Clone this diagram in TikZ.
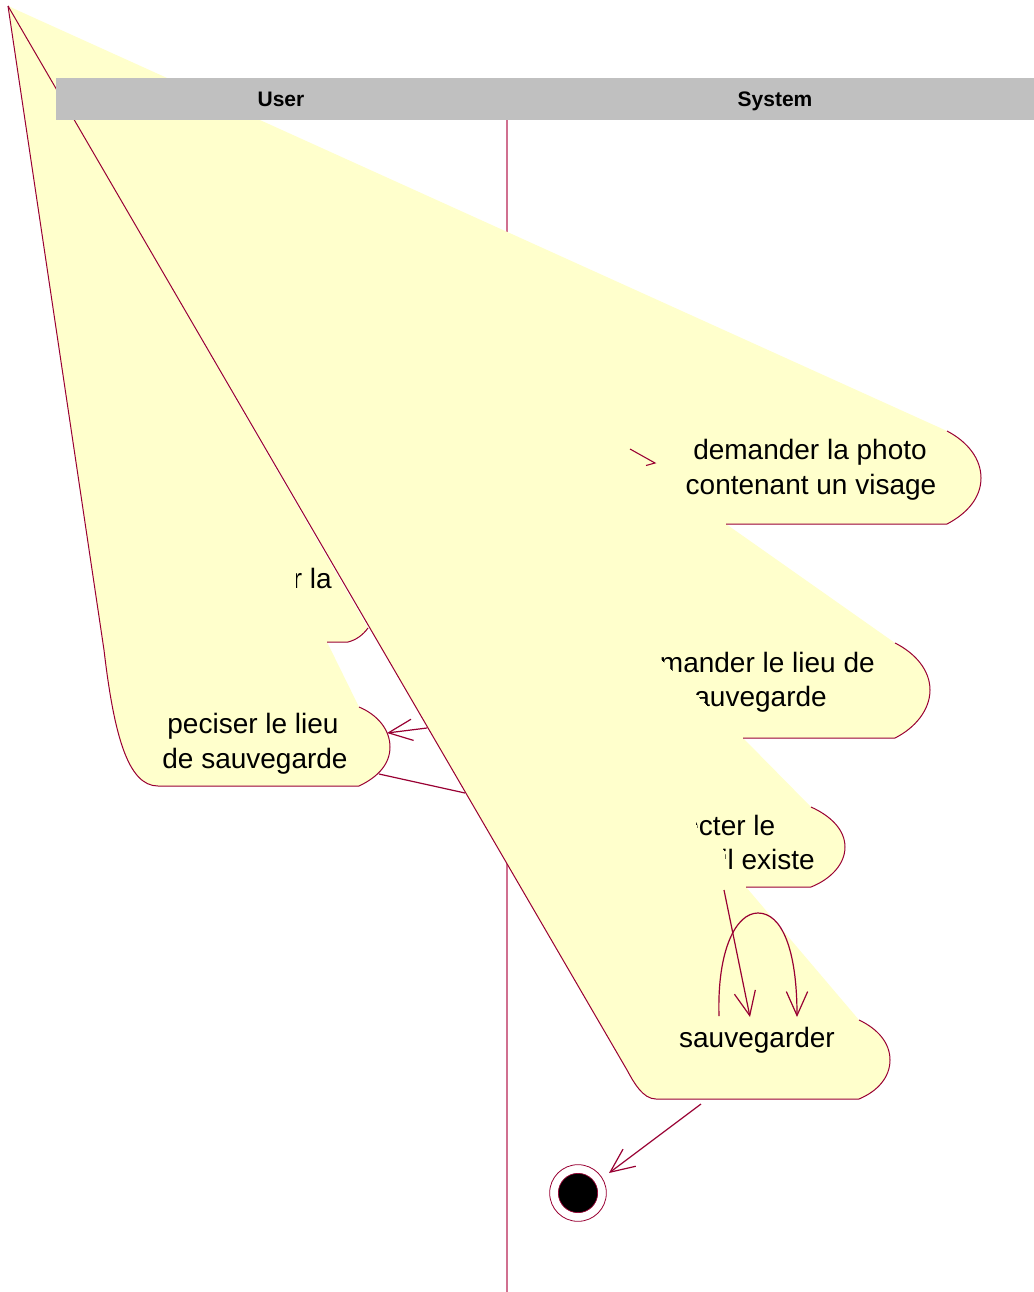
\documentclass[tikz,border=0pt]{standalone}
\usepackage{fontspec}
\setmainfont{Liberation Sans}
\usetikzlibrary{arrows.meta}
\definecolor{roseyellow}{HTML}{FFFFCC}
\definecolor{rosered}{HTML}{990033}
\definecolor{lanepink}{HTML}{D07090}
\definecolor{headgray}{HTML}{C0C0C0}
\tikzset{
  outline/.style={draw=rosered, line width=0.75pt},
  flow/.style={draw=rosered, line width=0.9pt, -{Straight Barb[length=18pt,width=16pt]}},
  acttext/.style={font=\fontsize{21}{26}\selectfont, inner sep=0pt, anchor=base},
  lanetext/.style={font=\bfseries\fontsize{15.75}{18}\selectfont, inner sep=0pt, anchor=base},
}
\begin{document}
\begin{tikzpicture}[x=0.75pt,y=-0.75pt]
\fill[white] (0,0) rectangle (1034,1292);
\useasboundingbox (0,0) rectangle (1034,1292);

% swimlane divider
\draw[lanepink, line width=1pt] (507,120) -- (507,1292);

% faint line from apex
\draw[rosered!35, line width=0.5pt] (8,6) -- (203,148);

% yellow regions
\fill[roseyellow] (8,6) -- (947,431)
  .. controls (968,442) and (981,459) .. (981,478)
  .. controls (981,497) and (968,513) .. (947,524)
  -- (726,524) -- (895,643)
  .. controls (915,653) and (930,670) .. (930,690)
  .. controls (930,710) and (915,728) .. (895,738)
  -- (743,738) -- (811,807)
  .. controls (831,816) and (845,830) .. (845,847)
  .. controls (845,864) and (831,879) .. (811,887)
  -- (746,887) -- (859,1020)
  .. controls (878,1029) and (890,1043) .. (890,1060)
  .. controls (890,1077) and (878,1091) .. (859,1099)
  -- (656,1099) .. controls (643,1099) and (634,1083) .. (627,1070) -- cycle;
\fill[roseyellow] (8,6) -- (104,650)
  .. controls (114,735) and (128,786) .. (158,786)
  -- (359,786)
  .. controls (378,777) and (390,764) .. (390,747)
  .. controls (390,730) and (378,715) .. (359,707)
  -- (327,642) -- (348,642)
  .. controls (356,640) and (363,635) .. (368,628) -- cycle;

% outlines
\draw[outline] (8,6) -- (104,650)
  .. controls (114,735) and (128,786) .. (158,786)
  -- (359,786)
  .. controls (378,777) and (390,764) .. (390,747)
  .. controls (390,730) and (378,715) .. (359,707);
\draw[outline] (327,642) -- (348,642) .. controls (356,640) and (363,635) .. (368,628);
\draw[outline] (8,6) -- (627,1070) .. controls (634,1083) and (643,1099) .. (656,1099)
  -- (859,1099)
  .. controls (878,1091) and (890,1077) .. (890,1060)
  .. controls (890,1043) and (878,1029) .. (859,1020);
\draw[outline] (746,887) -- (811,887)
  .. controls (831,879) and (845,864) .. (845,847)
  .. controls (845,830) and (831,816) .. (811,807);
\draw[outline] (743,738) -- (895,738)
  .. controls (915,728) and (930,710) .. (930,690)
  .. controls (930,670) and (915,653) .. (895,643);
\draw[outline] (726,524) -- (947,524)
  .. controls (968,513) and (981,497) .. (981,478)
  .. controls (981,459) and (968,442) .. (947,431);

% swimlane header
\fill[headgray] (56,78) rectangle (1034,120);
\node[lanetext] (user) at (281,106) {User};
\node[lanetext] (system) at (775,106) {System};

% activity texts
\node[acttext] (a1a) at (810,459) {demander la photo};
\node[acttext] (a1b) at (811,494) {contenant un visage};
\node[acttext] (a3a) at (253,733) {peciser le lieu};
\node[acttext] (a3b) at (255,768) {de sauvegarde};
\node[acttext] (a6) at (757,1047) {sauvegarder};
\begin{scope}
  \clip (296.5,560) rectangle (350,600);
  \node[acttext, anchor=base east] (a2) at (332,588) {r la};
\end{scope}
\begin{scope}
  \clip (641.5,640) -- (717,715) -- (900,715) -- (900,640) -- cycle;
  \node[acttext, anchor=base east] (a4a) at (875,672) {demander le lieu de};
  \node[acttext, anchor=base east] (a4b) at (827,706) {sauvegarde};
\end{scope}
\begin{scope}
  \clip (692,810) -- (700,837) -- (721,840) -- (728,870) -- (900,870) -- (900,805) -- (690,805) -- cycle;
  \node[acttext, anchor=base east] (a5a) at (775.5,835) {detecter le};
  \node[acttext, anchor=base east] (a5b) at (815,869) {s'il existe};
\end{scope}

% final state
\node[circle, draw=rosered, fill=white, line width=0.6pt, inner sep=0pt, minimum size=42.5pt] (final) at (578,1193) {};
\node[circle, draw=rosered, fill=black, line width=0.5pt, inner sep=0pt, minimum size=29.5pt] (finalin) at (final.center) {};

% connector end points
\coordinate (p1) at (630,449);
\coordinate (p1e) at (655,463);
\coordinate (m1) at (427,728);
\coordinate (t1) at (387,733);
\coordinate (s1) at (379,774);
\coordinate (m2) at (465,793);
\coordinate (d1) at (724,890);
\coordinate (d2) at (750,1017);
\coordinate (l1) at (719,1016);
\coordinate (l2) at (797,1017);
\coordinate (f1) at (701,1104);
\coordinate (f2) at (609,1173);

% connectors
\draw[rosered, line width=0.8pt] (p1) -- (p1e) -- ++(-9,2.5);
\draw[flow] (m1) -- (t1);
\draw[outline, line width=0.9pt] (s1) -- (m2);
\draw[flow] (d1) -- (d2);
\draw[flow] (l1) .. controls (717,950) and (736,913) .. (758,913)
  .. controls (782,913) and (797,950) .. (l2);
\draw[flow] (f1) -- (f2);
\end{tikzpicture}
\end{document}
